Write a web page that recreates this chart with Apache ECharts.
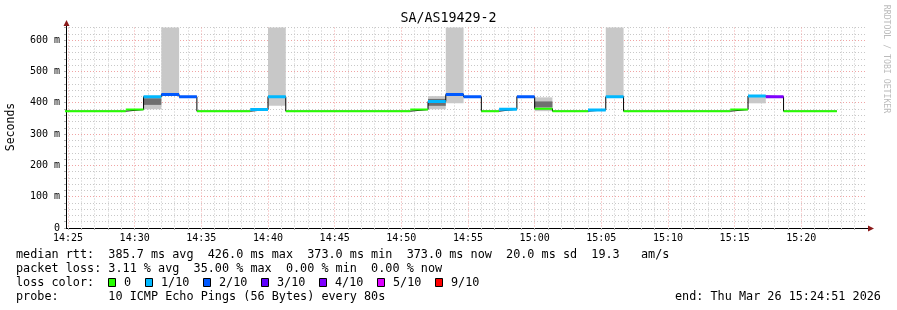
<!DOCTYPE html>
<html><head><meta charset="utf-8">
<script src="https://cdn.jsdelivr.net/npm/echarts@6/dist/echarts.min.js"></script>
<style>html,body{margin:0;padding:0;background:#fff}#c{width:897px;height:310px}</style>
</head><body><div id="c"></div>
<script>
// ---------- data ----------
const chartTitle = 'SA/AS19429-2';
const yAxisName = 'Seconds';
const watermark = 'RRDTOOL / TOBI OETIKER';
const axisStart = '2026-03-26T14:24:51';
const axisEnd = '2026-03-26T15:24:51';
const firstStep = '2026-03-26T14:24:00';
const stepSeconds = 80;
// median rtt per 80 s step (ms)
const medianRtt = [373,373,373,373, 378, 419,426,419, 373,373,373, 378,419,
  373,373,373,373,373,373,373, 378,404,426,419, 373,379,419,381, 373,373,
  377,419, 373,373,373,373,373,373, 378,421,419, 373,373,373];
// lost pings out of 10 per step
const lossTenths = [0,0,0,0, 0, 1,2,2, 0,0,0, 1,1,
  0,0,0,0,0,0,0, 0,1,2,2, 0,1,2,0, 0,0,
  1,1, 0,0,0,0,0,0, 0,1,4, 0,0,0];
// smoke (spread of the individual pings), ms
const N = null;
const smokeLow  = [N,N,N,N, N, 379,426,N, N,N,N, N,390, N,N,N,N,N,N,N, N,379,398,N, N,N,N,373, N,N, N,419, N,N,N,N,N,N, N,398,N, N,N,N];
const smokeHigh = [N,N,N,N, N, 421,660,N, N,N,N, N,660, N,N,N,N,N,N,N, N,421,660,N, N,N,N,417, N,N, N,660, N,N,N,N,N,N, N,421,N, N,N,N];
const coreLow   = [N,N,N,N, N, 393,N,N, N,N,N, N,N, N,N,N,N,N,N,N, N,390,N,N, N,N,N,385, N,N, N,N, N,N,N,N,N,N, N,N,N, N,N,N];
const coreHigh  = [N,N,N,N, N, 414,N,N, N,N,N, N,N, N,N,N,N,N,N,N, N,412,N,N, N,N,N,404, N,N, N,N, N,N,N,N,N,N, N,N,N, N,N,N];
const lossLevels = [0,1,2,3,4,5,9];
const lossLabels = ['0','1/10','2/10','3/10','4/10','5/10','9/10'];
const lossColors = ['#26ff00','#00b8ff','#0059ff','#5e00ff','#7e00ff','#dd00ff','#ff0000'];
const legendRtt  = 'median rtt:  385.7 ms avg  426.0 ms max  373.0 ms min  373.0 ms now  20.0 ms sd  19.3   am/s';
const legendLoss = 'packet loss: 3.11 % avg  35.00 % max  0.00 % min  0.00 % now';
const legendColorTitle = 'loss color:';
const legendProbe = 'probe:       10 ICMP Echo Pings (56 Bytes) every 80s';
const endText = 'end: Thu Mar 26 15:24:51 2026';

// ---------- build ----------
const MONO = '"DejaVu Sans Mono", "Liberation Mono", monospace';
const t0 = new Date(firstStep).getTime();
const stepTimes = medianRtt.map((_, i) => t0 + i * stepSeconds * 1000);
const stepEnd = i => stepTimes[i] + stepSeconds * 1000;

const blackLine = [];
medianRtt.forEach((v, i) => { blackLine.push([stepTimes[i], v]); blackLine.push([stepEnd(i), v]); });

const lossSeries = lossLevels.map((lvl, j) => {
  const d = [];
  medianRtt.forEach((v, i) => {
    if (lossTenths[i] === lvl) d.push([stepTimes[i], v], [stepEnd(i), v], [stepEnd(i), '-']);
  });
  return { type: 'line', data: d, symbol: 'none', silent: true, z: 5, connectNulls: false,
    lineStyle: { color: lossColors[j], width: lvl === 0 ? 2 : 3, cap: 'butt' } };
});

function bandSeries(lo, hi, color, z) {
  const d = [];
  lo.forEach((l, i) => { if (l != null) d.push([stepTimes[i], stepEnd(i), l, hi[i]]); });
  return { type: 'custom', data: d, z, silent: true, encode: { x: [0, 1], y: [2, 3] },
    renderItem(params, api) {
      const a = api.coord([api.value(0), api.value(3)]);
      const b = api.coord([api.value(1), api.value(2)]);
      const cs = params.coordSys;
      const shape = echarts.graphic.clipRectByRect(
        { x: a[0], y: a[1], width: b[0] - a[0], height: b[1] - a[1] },
        { x: cs.x, y: cs.y, width: cs.width, height: cs.height });
      return shape ? { type: 'rect', shape, style: { fill: color } } : null;
    } };
}

const pad = n => (n < 10 ? '0' : '') + n;
const MAJOR = '#f0a4a4', MINOR = '#c8c8c8';

// legend graphics
const graphics = [];
graphics.push({ type: 'text', x: 448.5, y: 19, style: { text: chartTitle, font: '13.3px ' + MONO, fill: '#000', align: 'center', verticalAlign: 'middle' } });
graphics.push({ type: 'text', x: 11, y: 127, rotation: Math.PI / 2, style: { text: yAxisName, font: '11.5px ' + MONO, fill: '#000', align: 'center', verticalAlign: 'middle' } });
graphics.push({ type: 'text', x: 886, y: 59, rotation: -Math.PI / 2, style: { text: watermark, font: '8.2px ' + MONO, fill: '#bbbbbb', align: 'center', verticalAlign: 'middle' } });
const legFont = '11.8px ' + MONO;
[[legendRtt, 254.5], [legendLoss, 268.5], [legendColorTitle, 282.5], [legendProbe, 296.5]].forEach(([t, y]) => {
  graphics.push({ type: 'text', x: 16, y, style: { text: t, font: legFont, fill: '#000', align: 'left', verticalAlign: 'middle' } });
});
graphics.push({ type: 'text', x: 675, y: 296.5, style: { text: endText, font: legFont, fill: '#000', align: 'left', verticalAlign: 'middle' } });
let lx = 108;
lossLabels.forEach((lab, j) => {
  graphics.push({ type: 'rect', shape: { x: lx + 0.5, y: 278.5, width: 7, height: 8 }, style: { fill: lossColors[j], stroke: '#000', lineWidth: 1 } });
  graphics.push({ type: 'text', x: lx + 16, y: 282.5, style: { text: lab, font: legFont, fill: '#000', align: 'left', verticalAlign: 'middle' } });
  lx += 16 + lab.length * 7 + 14;
});
// axis arrows
graphics.push({ type: 'line', shape: { x1: 866, y1: 228.5, x2: 870, y2: 228.5 }, style: { stroke: '#000', lineWidth: 1 } });
graphics.push({ type: 'polygon', shape: { points: [[868, 225.5], [874, 228.5], [868, 231.5]] }, style: { fill: '#8b1a1a' } });
graphics.push({ type: 'line', shape: { x1: 66.5, y1: 27.5, x2: 66.5, y2: 24 }, style: { stroke: '#000', lineWidth: 1 } });
graphics.push({ type: 'polygon', shape: { points: [[63.5, 26], [66.5, 20], [69.5, 26]] }, style: { fill: '#8b1a1a' } });

const option = {
  animation: false,
  backgroundColor: '#ffffff',
  grid: { left: 66, top: 27.5, width: 800, height: 200.5, containLabel: false },
  xAxis: {
    type: 'time',
    min: new Date(axisStart).getTime(), max: new Date(axisEnd).getTime(),
    minInterval: 60000, maxInterval: 60000, splitNumber: 60,
    axisLine: { show: true, lineStyle: { color: '#000', width: 1 } },
    axisTick: { show: true, length: 2, lineStyle: { color: '#b0b0b0' } },
    axisLabel: {
      show: true, hideOverlap: false, margin: 5, fontFamily: MONO, fontSize: 10, color: '#000',
      formatter: v => { const d = new Date(v); return (d.getSeconds() === 0 && d.getMinutes() % 5 === 0) ? pad(d.getHours()) + ':' + pad(d.getMinutes()) : ''; }
    },
    splitLine: { show: true, showMaxLine: false, lineStyle: { color: [MINOR, MAJOR, MINOR, MINOR, MINOR], type: [1, 2], width: 1 } },
    minorTick: { show: false }, minorSplitLine: { show: false }
  },
  yAxis: {
    type: 'value', min: 0, max: 640, interval: 20,
    axisLine: { show: true, lineStyle: { color: '#000', width: 1 } },
    axisTick: { show: true, length: 2, lineStyle: { color: '#b0b0b0' } },
    axisLabel: { show: true, margin: 6, fontFamily: MONO, fontSize: 10, color: '#000',
      formatter: v => (v % 100 ? '' : (v === 0 ? '0' : v + ' m')) },
    splitLine: { show: true, lineStyle: { color: [MAJOR, MINOR, MINOR, MINOR, MINOR], type: [1, 2], width: 1 } }
  },
  series: [
    bandSeries(smokeLow, smokeHigh, '#c8c8c8', 1),
    bandSeries(coreLow, coreHigh, '#6f6f6f', 2),
    { type: 'line', data: blackLine, symbol: 'none', silent: true, z: 3, lineStyle: { color: '#000', width: 1 } },
    ...lossSeries
  ],
  graphic: graphics
};
const chart = echarts.init(document.getElementById('c'), null, { renderer: 'canvas' });
chart.setOption(option);
</script></body></html>
